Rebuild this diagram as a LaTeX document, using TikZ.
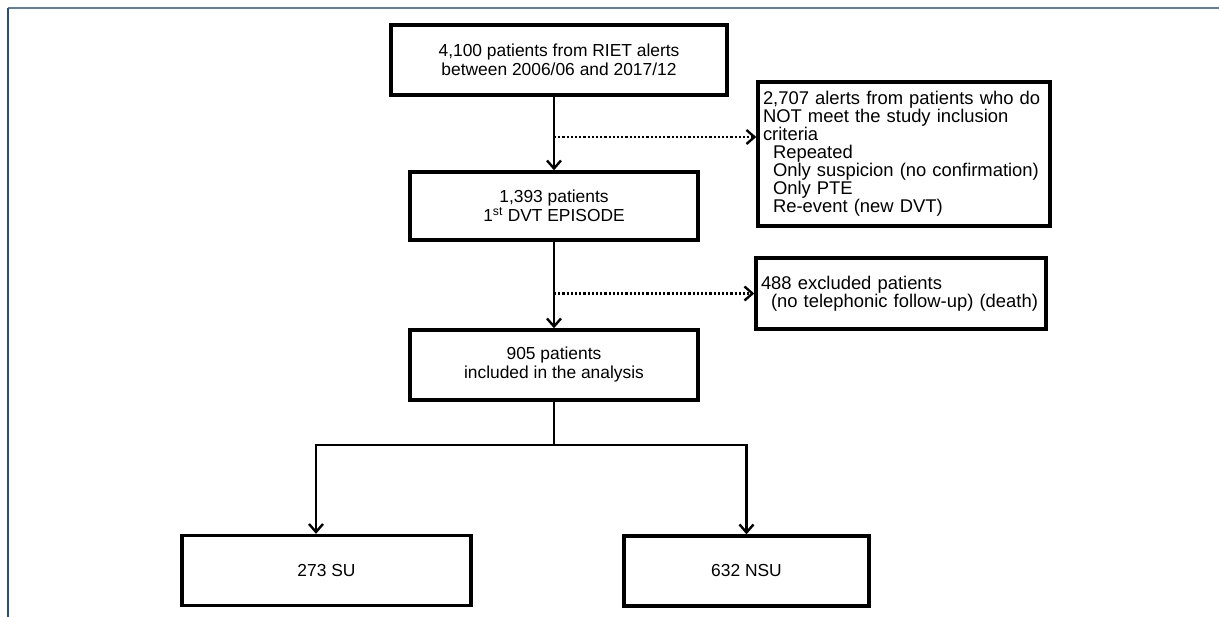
\documentclass[tikz,border=0pt]{standalone}
\usepackage{fontspec}
\setmainfont{Liberation Sans}
\usetikzlibrary{arrows.meta, positioning}
\definecolor{frametop}{HTML}{5B7FA6}
\definecolor{frameleft}{HTML}{234E89}

\begin{document}
\begin{tikzpicture}[x=1pt, y=-1pt,
    box/.style={rectangle, draw, line width=3.4pt, minimum height=70pt, align=center, inner sep=4pt, font=\fontsize{17.4}{19}\selectfont},
    sidebox/.style={box, align=left, font=\fontsize{18.4}{18}\selectfont},
    arrow/.style={-{Straight Barb[length=8pt, width=14pt, line width=2.4pt]}, line width=2.3pt},
    dotarrow/.style={arrow, dash pattern=on 2.2pt off 2pt}
]
    \useasboundingbox (0,0) rectangle (1219,617);

    % Frame
    \draw[frametop, line width=1.5pt] (8,8) -- (1219,8);
    \draw[frameleft, line width=1.5pt] (8,8) -- (8,617);

    % Main flow
    \node[box, minimum width=336pt] (alerts) at (559,60) {4,100 patients from RIET alerts\\between 2006/06 and 2017/12};
    \node[box, minimum width=288pt, minimum height=68pt] (first) at (554,206) {1,393 patients\\1\textsuperscript{st} DVT EPISODE};
    \node[box, minimum width=288pt] (included) at (554,365) {905 patients\\included in the analysis};

    % Exclusions
    \node[sidebox, minimum width=292pt, minimum height=144pt, text width=282pt] (notmet) at (904,154) {2,707 alerts from patients who do\\NOT meet the study inclusion\\criteria\\\hspace*{10pt}Repeated\\\hspace*{10pt}Only suspicion (no confirmation)\\\hspace*{10pt}Only PTE\\\hspace*{10pt}Re-event (new DVT)};
    \node[sidebox, minimum width=290pt, minimum height=71pt, text width=280pt] (excluded) at (901,293.5) {488 excluded patients\\\hspace*{10pt}(no telephonic follow-up) (death)};

    % Groups
    \node[box, minimum width=289pt] (su) at (326.5,570.5) {273 SU};
    \node[box, minimum width=245pt] (nsu) at (746.5,571) {632 NSU};

    % Arrows
    \coordinate (out1) at (554,137);
    \coordinate (branch) at (554,445);
    \draw[arrow] (first.north |- alerts.south) -- (first.north);
    \draw[dotarrow] (out1) -- (out1 -| notmet.west);
    \draw[arrow] (first.south) -- (included.north);
    \draw[dotarrow] (first.south |- excluded.west) -- (excluded.west);
    \draw[line width=2.3pt] (included.south) -- (branch);
    \draw[arrow] (branch) -| ([xshift=-10.5pt]su.north);
    \draw[arrow] (branch) -| (nsu.north);
\end{tikzpicture}
\end{document}
